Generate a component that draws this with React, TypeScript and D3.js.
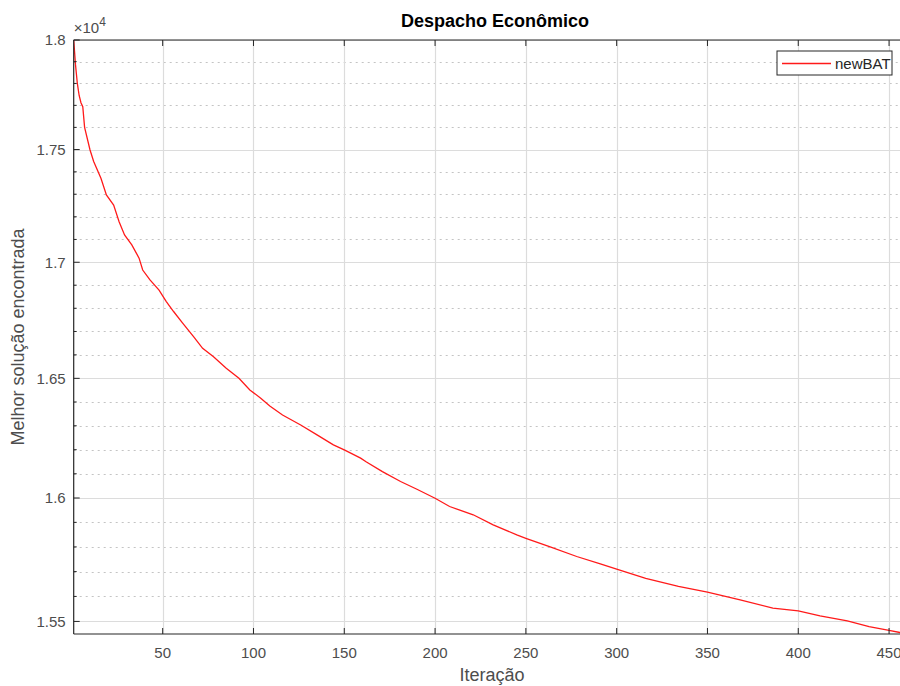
import React, { useEffect, useRef } from "react";
import * as d3 from "d3";

// iteration number and best cost found
const iterations = [
  1, 2, 3, 4, 5, 6, 7, 10, 12, 16, 19, 23, 26, 29, 33, 37, 39, 43, 48, 52,
  56, 61, 67, 72, 78, 85, 92, 98, 104, 109, 116, 126, 135, 144, 150, 159,
  162, 171, 181, 190, 200, 208, 221, 232, 245, 250, 263, 278, 291, 300, 316,
  334, 350, 368, 386, 400, 412, 427, 439, 450, 456, 465,
];
const bestCost = [
  18000, 17885, 17800, 17745, 17712, 17694, 17600, 17498, 17446, 17371,
  17297, 17252, 17178, 17120, 17076, 17018, 16966, 16923, 16879, 16829,
  16786, 16736, 16678, 16628, 16592, 16543, 16500, 16451, 16416, 16383,
  16345, 16303, 16262, 16220, 16199, 16165, 16150, 16109, 16068, 16036,
  15999, 15965, 15931, 15890, 15849, 15835, 15801, 15761, 15731, 15710,
  15673, 15640, 15617, 15586, 15553, 15542, 15522, 15502, 15479, 15464,
  15456, 15443,
];
const xTicks = [50, 100, 150, 200, 250, 300, 350, 400, 450];
const yTicks = [15500, 16000, 16500, 17000, 17500, 18000];
const yMinorTicks = d3.range(15500, 18001, 100).filter((v) => v % 500 !== 0);
const xDomain = [1, 465];
const yDomain = [15450, 18000];

const titleText = "Despacho Econômico";
const xLabel = "Iteração";
const yLabel = "Melhor solução encontrada";
const seriesName = "newBAT";

export default function App() {
  const ref = useRef<SVGSVGElement>(null);

  useEffect(() => {
    const svg = d3.select(ref.current);
    svg.selectAll("*").remove();

    const W = 900;
    const H = 686;
    const left = 73.7;
    const top = 40;
    const right = 916.3;
    const bottom = 634;
    const font = "'Liberation Sans', Arial, Helvetica, sans-serif";
    const axisColor = "#262626";
    const labelColor = "#4d4d4d";

    const x = d3.scaleLinear().domain(xDomain).range([left, right]);
    const y = d3.scaleLog().domain(yDomain).range([bottom, top]);

    svg.append("rect").attr("width", W).attr("height", H).attr("fill", "white");

    svg
      .append("defs")
      .append("clipPath")
      .attr("id", "plotclip")
      .append("rect")
      .attr("x", left)
      .attr("y", top)
      .attr("width", right - left)
      .attr("height", bottom - top);

    // minor grid (dotted)
    svg
      .selectAll(".minor-grid")
      .data(yMinorTicks)
      .enter()
      .append("line")
      .attr("class", "minor-grid")
      .attr("x1", left)
      .attr("x2", right)
      .attr("y1", (d) => Math.round(y(d)) + 0.5)
      .attr("y2", (d) => Math.round(y(d)) + 0.5)
      .attr("stroke", "#c4c4c4")
      .attr("stroke-width", 1)
      .attr("stroke-dasharray", "2,4");

    // major grid
    svg
      .selectAll(".ygrid")
      .data(yTicks)
      .enter()
      .append("line")
      .attr("x1", left)
      .attr("x2", right)
      .attr("y1", (d) => Math.round(y(d)) + 0.5)
      .attr("y2", (d) => Math.round(y(d)) + 0.5)
      .attr("stroke", "#dcdcdc")
      .attr("stroke-width", 1.2);

    svg
      .selectAll(".xgrid")
      .data(xTicks)
      .enter()
      .append("line")
      .attr("x1", (d) => Math.round(x(d)) + 0.5)
      .attr("x2", (d) => Math.round(x(d)) + 0.5)
      .attr("y1", top)
      .attr("y2", bottom)
      .attr("stroke", "#dcdcdc")
      .attr("stroke-width", 1.2);

    // series
    const line = d3
      .line<number>()
      .x((d, i) => x(iterations[i]))
      .y((d) => y(d));

    svg
      .append("path")
      .datum(bestCost)
      .attr("clip-path", "url(#plotclip)")
      .attr("d", line)
      .attr("fill", "none")
      .attr("stroke", "#ff1a1a")
      .attr("stroke-width", 1.3);

    // axes box
    [
      [left, top, left, bottom],
      [left, top, right, top],
      [left, bottom, right, bottom],
    ].forEach(([x1, y1, x2, y2]) => {
      svg
        .append("line")
        .attr("x1", x1)
        .attr("y1", y1)
        .attr("x2", x2)
        .attr("y2", y2)
        .attr("stroke", axisColor)
        .attr("stroke-width", 1.2);
    });

    // y ticks
    svg
      .selectAll(".ytick")
      .data(yTicks)
      .enter()
      .append("line")
      .attr("x1", left)
      .attr("x2", left + 6)
      .attr("y1", (d) => y(d))
      .attr("y2", (d) => y(d))
      .attr("stroke", axisColor);
    svg
      .selectAll(".yminor")
      .data(yMinorTicks)
      .enter()
      .append("line")
      .attr("x1", left)
      .attr("x2", left + 3)
      .attr("y1", (d) => y(d))
      .attr("y2", (d) => y(d))
      .attr("stroke", axisColor);

    svg
      .selectAll(".ylab")
      .data(yTicks)
      .enter()
      .append("text")
      .attr("x", left - 8)
      .attr("y", (d) => y(d))
      .attr("dy", "0.35em")
      .attr("text-anchor", "end")
      .style("font-family", font)
      .style("font-size", "15px")
      .attr("fill", labelColor)
      .text((d) => String(+(d / 1e4).toFixed(2)));

    // x ticks (top and bottom)
    svg
      .selectAll(".xtickb")
      .data(xTicks)
      .enter()
      .append("line")
      .attr("x1", (d) => x(d))
      .attr("x2", (d) => x(d))
      .attr("y1", bottom)
      .attr("y2", bottom - 6)
      .attr("stroke", axisColor);
    svg
      .selectAll(".xtickt")
      .data(xTicks)
      .enter()
      .append("line")
      .attr("x1", (d) => x(d))
      .attr("x2", (d) => x(d))
      .attr("y1", top)
      .attr("y2", top + 6)
      .attr("stroke", axisColor);

    svg
      .selectAll(".xlab")
      .data(xTicks)
      .enter()
      .append("text")
      .attr("x", (d) => x(d))
      .attr("y", bottom + 24)
      .attr("text-anchor", "middle")
      .style("font-family", font)
      .style("font-size", "15px")
      .attr("fill", labelColor)
      .text((d) => d);

    // exponent label
    const expo = svg
      .append("text")
      .attr("x", left)
      .attr("y", top - 7)
      .style("font-family", font)
      .style("font-size", "15px")
      .attr("fill", labelColor);
    expo.append("tspan").text("×10");
    expo
      .append("tspan")
      .attr("dy", -7)
      .style("font-size", "12px")
      .text("4");

    // title and axis labels
    svg
      .append("text")
      .attr("x", (left + right) / 2)
      .attr("y", 27)
      .attr("text-anchor", "middle")
      .style("font-family", font)
      .style("font-size", "18px")
      .style("font-weight", "bold")
      .attr("fill", "#000")
      .text(titleText);

    svg
      .append("text")
      .attr("x", 492)
      .attr("y", 681)
      .attr("text-anchor", "middle")
      .style("font-family", font)
      .style("font-size", "18px")
      .attr("fill", labelColor)
      .text(xLabel);

    svg
      .append("text")
      .attr("transform", `translate(24,${(top + bottom) / 2}) rotate(-90)`)
      .attr("text-anchor", "middle")
      .style("font-family", font)
      .style("font-size", "18px")
      .attr("fill", labelColor)
      .text(yLabel);

    // legend
    const lg = svg.append("g").attr("transform", "translate(777,51)");
    lg.append("rect")
      .attr("width", 115)
      .attr("height", 24)
      .attr("fill", "white")
      .attr("stroke", axisColor)
      .attr("stroke-width", 1);
    lg.append("line")
      .attr("x1", 5)
      .attr("x2", 54)
      .attr("y1", 12.5)
      .attr("y2", 12.5)
      .attr("stroke", "#ff1a1a")
      .attr("stroke-width", 1.3);
    lg.append("text")
      .attr("x", 58)
      .attr("y", 17.5)
      .style("font-family", font)
      .style("font-size", "15px")
      .attr("fill", axisColor)
      .text(seriesName);
  }, []);

  return (
    <svg
      ref={ref}
      width={900}
      height={686}
      style={{ position: "absolute", left: 0, top: 0, display: "block" }}
    />
  );
}
